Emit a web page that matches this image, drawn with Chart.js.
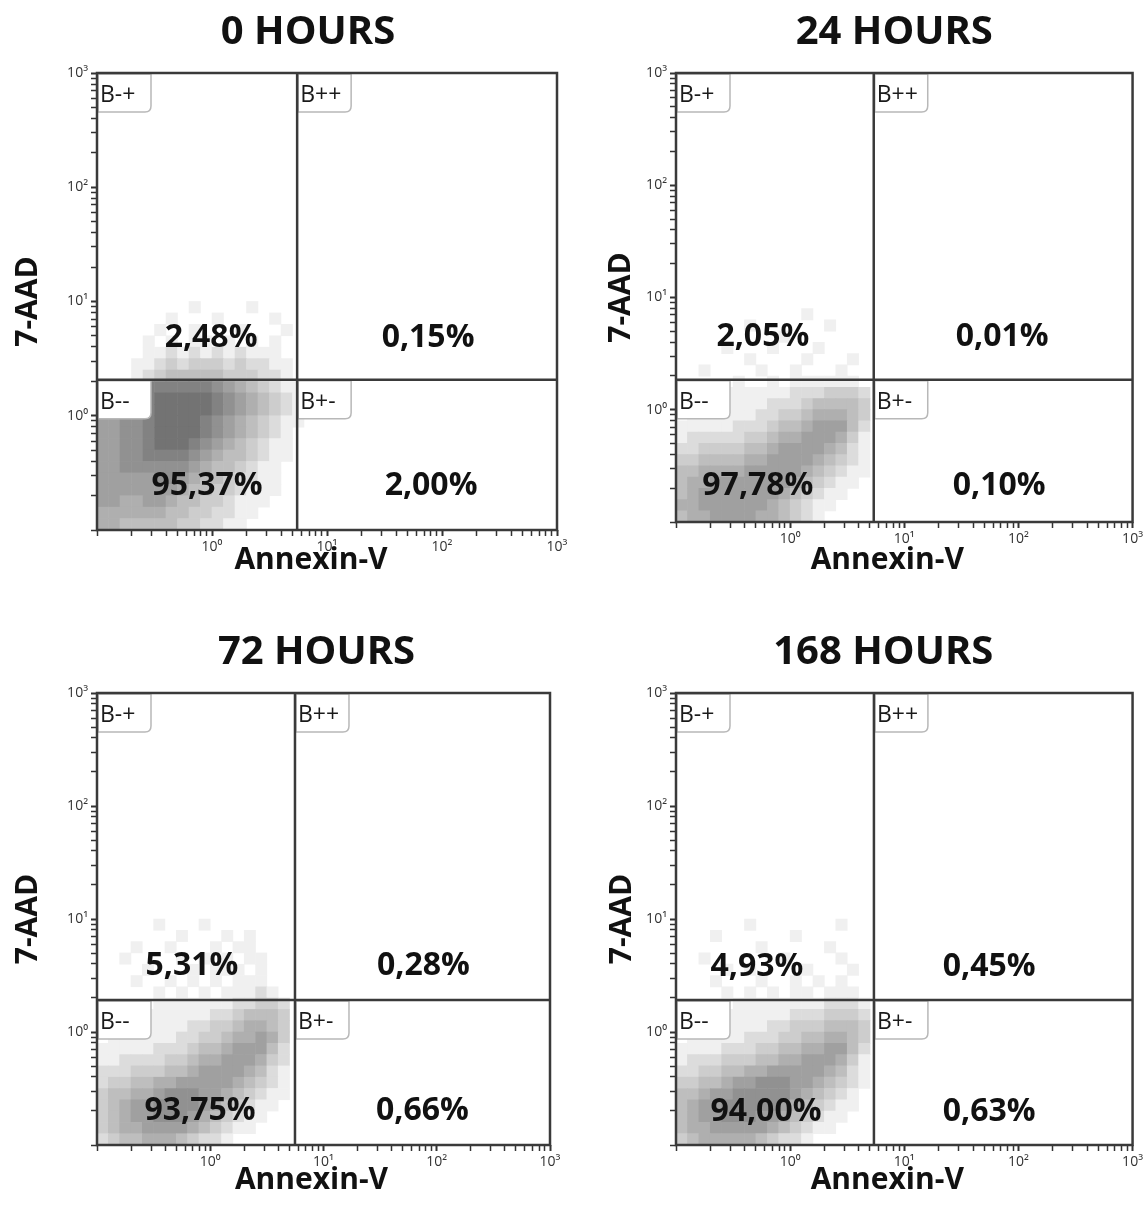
<!DOCTYPE html>
<html>
<head>
<meta charset="utf-8">
<title>Annexin-V / 7-AAD</title>
<script src="https://cdn.jsdelivr.net/npm/chart.js@4.4.1/dist/chart.umd.min.js"></script>
<style>
  body { margin: 0; background: #fff; }
  #wrap { position: relative; width: 1146px; height: 1212px; }
  .panel { position: absolute; }
</style>
</head>
<body>
<div id="wrap">
  <div class="panel" style="left:0;top:0;width:573px;height:600px"><canvas id="p0"></canvas></div>
  <div class="panel" style="left:573px;top:0;width:573px;height:600px"><canvas id="p1"></canvas></div>
  <div class="panel" style="left:0;top:606px;width:573px;height:606px"><canvas id="p2"></canvas></div>
  <div class="panel" style="left:573px;top:606px;width:573px;height:606px"><canvas id="p3"></canvas></div>
</div>
<script>
// Panel texts and gate values
const panelTitles = ['0 HOURS', '24 HOURS', '72 HOURS', '168 HOURS'];
const gateNames = ['B-+', 'B++', 'B--', 'B+-'];
const pctUpperLeft = ['2,48%', '2,05%', '5,31%', '4,93%'];
const pctUpperRight = ['0,15%', '0,01%', '0,28%', '0,45%'];
const pctLowerLeft = ['95,37%', '97,78%', '93,75%', '94,00%'];
const pctLowerRight = ['2,00%', '0,10%', '0,66%', '0,63%'];
const gateX = [5.5, 5.4, 5.6, 5.42];
const gateY = [2.07, 1.85, 1.92, 1.92];

// Axis ticks
const tickVals = [1, 10, 100, 1000];
const tickLabels = ['10⁰', '10¹', '10²', '10³'];
const decades = [0.1, 1, 10, 100];
const minorSteps = [1, 2, 3, 4, 5, 6, 7, 8, 9];

const cellLogX = [-0.95, -0.85, -0.75, -0.65, -0.55, -0.45, -0.35, -0.25, -0.15, -0.05, 0.05, 0.15, 0.25, 0.35, 0.45, 0.55, 0.65, 0.75];
const cellLogY = [0.95, 0.85, 0.75, 0.65, 0.55, 0.45, 0.35, 0.25, 0.15, 0.05, -0.05, -0.15, -0.25, -0.35, -0.45, -0.55, -0.65, -0.75, -0.85, -0.95];

const density0 = [
  '000000001000010000',
  '000000100010000100',
  '000001001000100010',
  '000010101101010100',
  '000011212121211100',
  '000112323332322110',
  '000123444443332210',
  '556788888876543211',
  '556789999987654321',
  '566789999987654321',
  '667789999876543211',
  '667789999876543210',
  '667789998765432110',
  '667788887654432110',
  '667777776544321100',
  '666667765443221100',
  '666666654433211100',
  '665566544332111000',
  '555555443322110000',
  '554444433221100000'
];
const density1 = [
  '000000000000000000',
  '000000000001000000',
  '000000100000010000',
  '000000000100000000',
  '000010001000100000',
  '000000100001000100',
  '001000010010001000',
  '000001001011111100',
  '000011111122233320',
  '000111112223444430',
  '011111122334555430',
  '111112223445666420',
  '122222334556665310',
  '223333445666654210',
  '334444556666543210',
  '445555666665432110',
  '455666666654321100',
  '456666666543211000',
  '556666665432110000',
  '455666655432100000'
];
const density2 = [
  '000001000100000000',
  '000000010001010000',
  '000100100010110000',
  '001000010101011000',
  '000010001011101000',
  '000100101010111000',
  '000001010101112100',
  '000001111111223320',
  '000011111122344430',
  '000111112233455430',
  '011111122334556530',
  '111112223445666420',
  '112222334556665320',
  '222333445666654210',
  '233445566666543210',
  '344556777665432110',
  '345667777654321100',
  '345667776543211000',
  '345566665432110000',
  '234455543221000000'
];
const density3 = [
  '000000100000001000',
  '000100000010000000',
  '000000010000010000',
  '001000000100001000',
  '000010100001000100',
  '000100010010101000',
  '000010101011011100',
  '000001111111122210',
  '000011111122233320',
  '000111112233344430',
  '011111222334455430',
  '111122233445566420',
  '122233344556665310',
  '223344556666654210',
  '334456677766543210',
  '445667777765432100',
  '456677777654321100',
  '456677766543211000',
  '455666665432110000',
  '345555543221000000'
];
const densities = [density0, density1, density2, density3];

// Layout of each panel (page pixels)
const panelLayout = [
  { id: 'p0', top: 0,   left: 0,   w: 573, h: 600, area: [97, 73, 557, 530],   yTitlePad: 10, headDx: -19, xTitleDx: -16, xTitleDy: 30, pctDx: [14, 1, 10, 4],    pctUp: 42, pctLow: 44 },
  { id: 'p1', top: 0,   left: 573, w: 573, h: 600, area: [676, 73, 1135, 522], yTitlePad: 30, headDx: -10, xTitleDx: -17, xTitleDy: 38, pctDx: [-12, -1, -17, -4], pctUp: 43, pctLow: 36 },
  { id: 'p2', top: 606, left: 0,   w: 573, h: 606, area: [97, 693, 550, 1145], yTitlePad: 10, headDx: -7,  xTitleDx: -12, xTitleDy: 35, pctDx: [-4, 1, 4, 0],      pctUp: 34, pctLow: 34 },
  { id: 'p3', top: 606, left: 573, w: 573, h: 606, area: [676, 693, 1135, 1145], yTitlePad: 31, headDx: -21, xTitleDx: -17, xTitleDy: 35, pctDx: [-18, -14, -9, -14], pctUp: 33, pctLow: 33 }
];

const FONT = "'Open Sans', 'DejaVu Sans', sans-serif";
const axisTicks = [];
decades.forEach(d => minorSteps.forEach(s => axisTicks.push(+(d * s).toPrecision(3))));
axisTicks.push(1000);

function cellPoints(rows) {
  const pts = [];
  rows.forEach((row, r) => {
    [...row].forEach((ch, c) => {
      const v = +ch;
      if (v > 0) pts.push({ x: Math.pow(10, cellLogX[c]), y: Math.pow(10, cellLogY[r]), v });
    });
  });
  return pts;
}

function gateBox(ctx, x, y, w, h, r) {
  ctx.beginPath();
  ctx.moveTo(x, y);
  ctx.lineTo(x + w, y);
  ctx.lineTo(x + w, y + h - r);
  ctx.quadraticCurveTo(x + w, y + h, x + w - r, y + h);
  ctx.lineTo(x, y + h);
  ctx.closePath();
}

// Quadrant gates, gate tags, percentages, heading and x title
const quadrantPlugin = {
  id: 'quadrants',
  afterDraw(chart, args, opts) {
    const i = opts.index;
    const L = panelLayout[i];
    const { ctx, chartArea: a, scales: { x, y } } = chart;
    const gx = x.getPixelForValue(gateX[i]);
    const gy = y.getPixelForValue(gateY[i]);
    ctx.save();

    // gate tags
    const corners = [[a.left, a.top], [gx, a.top], [a.left, gy], [gx, gy]];
    corners.forEach(([cx, cy], k) => {
      gateBox(ctx, cx + 1, cy + 1, 53, 38, 6);
      ctx.fillStyle = '#fff';
      ctx.fill();
      ctx.strokeStyle = '#b8b8b8';
      ctx.lineWidth = 1.5;
      ctx.stroke();
      ctx.fillStyle = '#1a1a1a';
      ctx.font = '23px ' + FONT;
      ctx.textAlign = 'left';
      ctx.textBaseline = 'alphabetic';
      ctx.fillText(gateNames[k], cx + 3, cy + 29);
    });

    // frame and gates
    ctx.strokeStyle = '#3a3a3a';
    ctx.lineWidth = 2.5;
    ctx.strokeRect(a.left, a.top, a.right - a.left, a.bottom - a.top);
    ctx.beginPath();
    ctx.moveTo(gx, a.top); ctx.lineTo(gx, a.bottom);
    ctx.moveTo(a.left, gy); ctx.lineTo(a.right, gy);
    ctx.stroke();

    // percentages
    ctx.fillStyle = '#111';
    ctx.font = 'bold 32px ' + FONT;
    ctx.textAlign = 'center';
    ctx.textBaseline = 'middle';
    const lx = (a.left + gx) / 2, rx = (gx + a.right) / 2;
    ctx.fillText(pctUpperLeft[i], lx + L.pctDx[0], gy - L.pctUp);
    ctx.fillText(pctUpperRight[i], rx + L.pctDx[1], gy - L.pctUp);
    ctx.fillText(pctLowerLeft[i], lx + L.pctDx[2], a.bottom - L.pctLow);
    ctx.fillText(pctLowerRight[i], rx + L.pctDx[3], a.bottom - L.pctLow);

    // heading and x title
    const mid = (a.left + a.right) / 2;
    ctx.font = 'bold 40px ' + FONT;
    ctx.fillText(panelTitles[i], mid + L.headDx, a.top - 40);
    ctx.font = 'bold 30px ' + FONT;
    ctx.fillText('Annexin-V', mid + L.xTitleDx, a.bottom + L.xTitleDy);
    ctx.restore();
  }
};

const tickOpts = {
  autoSkip: false,
  maxRotation: 0,
  padding: 3,
  color: '#333',
  font: { size: 14, family: FONT },
  callback: (v) => {
    const k = tickVals.indexOf(v);
    return k >= 0 ? tickLabels[k] : '';
  }
};
const gridOpts = {
  drawOnChartArea: false,
  drawTicks: true,
  tickLength: 6,
  tickColor: '#333',
  tickWidth: (ctx) => (ctx.tick && tickVals.includes(ctx.tick.value) ? 2 : 1.5)
};

// grey level for a density step: sparse cells stay very light
const greyOf = (v) => Math.round(v <= 1 ? 240 : 250 - 15 * v);

panelLayout.forEach((L, i) => {
  const [aL, aT, aR, aB] = L.area;
  new Chart(document.getElementById(L.id).getContext('2d'), {
    type: 'scatter',
    data: {
      datasets: [{
        data: cellPoints(densities[i]),
        pointStyle: 'rect',
        borderWidth: 0,
        pointRadius: (ctx) => {
          const { x, y } = ctx.chart.scales;
          const w = Math.abs(x.getPixelForValue(10) - x.getPixelForValue(1)) / 10;
          const h = Math.abs(y.getPixelForValue(1) - y.getPixelForValue(10)) / 10;
          return (Math.max(w, h) + 0.6) / Math.SQRT2;
        },
        backgroundColor: (ctx) => {
          const g = greyOf(ctx.raw ? ctx.raw.v : 0);
          return `rgb(${g},${g},${g})`;
        }
      }]
    },
    options: {
      responsive: true,
      maintainAspectRatio: false,
      devicePixelRatio: 1,
      animation: false,
      events: [],
      layout: { padding: { left: 0, top: aT - L.top, right: L.left + L.w - aR, bottom: 0 } },
      plugins: {
        legend: { display: false },
        tooltip: { enabled: false },
        title: { display: false },
        quadrants: { index: i }
      },
      scales: {
        x: {
          type: 'logarithmic',
          min: 0.1,
          max: 1000,
          afterBuildTicks: (s) => { s.ticks = axisTicks.map(v => ({ value: v })); },
          afterFit: (s) => { s.height = L.top + L.h - aB; },
          border: { display: false },
          grid: gridOpts,
          ticks: tickOpts
        },
        y: {
          type: 'logarithmic',
          min: 0.1,
          max: 1000,
          afterBuildTicks: (s) => { s.ticks = axisTicks.map(v => ({ value: v })); },
          afterFit: (s) => { s.width = aL - L.left; },
          border: { display: false },
          grid: gridOpts,
          ticks: tickOpts,
          title: {
            display: true,
            text: '7-AAD',
            color: '#111',
            font: { size: 30, weight: 'bold', family: FONT },
            padding: { top: L.yTitlePad, bottom: 0 }
          }
        }
      }
    },
    plugins: [quadrantPlugin]
  });
});
</script>
</body>
</html>
